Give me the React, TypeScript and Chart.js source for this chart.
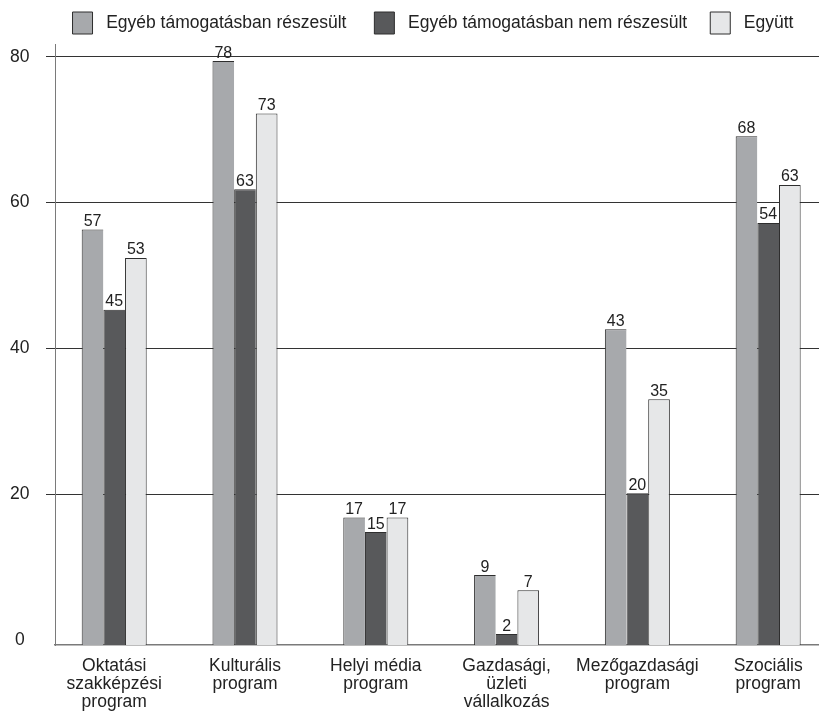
import React, { useEffect, useRef } from "react";
import { Chart, registerables } from "chart.js";

Chart.register(...registerables);

const categories: string[][] = [
  ["Oktatási", "szakképzési", "program"],
  ["Kulturális", "program"],
  ["Helyi média", "program"],
  ["Gazdasági,", "üzleti", "vállalkozás"],
  ["Mezőgazdasági", "program"],
  ["Szociális", "program"],
];

const seriesNames = [
  "Egyéb támogatásban részesült",
  "Egyéb támogatásban nem részesült",
  "Együtt",
];

// bar heights as drawn
const valuesReceived = [56.3, 79.4, 16.8, 8.9, 42.6, 69.1];
const valuesNotReceived = [45.3, 61.8, 14.8, 0.8, 20.1, 57.2];
const valuesTogether = [52.4, 72.2, 16.8, 6.8, 33.0, 62.4];

// value labels as printed above the bars
const labelsReceived = [57, 78, 17, 9, 43, 68];
const labelsNotReceived = [45, 63, 15, 2, 20, 54];
const labelsTogether = [53, 73, 17, 7, 35, 63];

const yTicks = [0, 20, 40, 60, 80];

const seriesColors = ["#a7a9ac", "#58595b", "#e6e7e8"];
const legendSuffix = ["    ", "   ", ""];

const FONT = "'Liberation Sans', Arial, Helvetica, sans-serif";

const valueLabelPlugin = {
  id: "valueLabels",
  afterDatasetsDraw(chart: any) {
    const sets = [labelsReceived, labelsNotReceived, labelsTogether];
    const ctx = chart.ctx;
    ctx.save();
    ctx.font = `16px ${FONT}`;
    ctx.fillStyle = "#222";
    ctx.textAlign = "center";
    ctx.textBaseline = "alphabetic";
    chart.data.datasets.forEach((_ds: any, di: number) => {
      const meta = chart.getDatasetMeta(di);
      meta.data.forEach((bar: any, i: number) => {
        ctx.fillText(String(sets[di][i]), bar.x, bar.y - 3.5);
      });
    });
    ctx.restore();
  },
};

export default function App() {
  const ref = useRef<HTMLCanvasElement | null>(null);

  useEffect(() => {
    document.body.style.margin = "0";
    const canvas = ref.current;
    if (!canvas) return;
    const allValues = [valuesReceived, valuesNotReceived, valuesTogether];
    const Y_MIN = -0.7;
    const chart = new Chart(canvas, {
      type: "bar",
      data: {
        datasets: allValues.map((vals, di) => ({
          label: seriesNames[di],
          data: vals.map((v, i) => ({ x: i, y: v })),
          backgroundColor: seriesColors[di],
          borderColor: "#2e2e2e",
          borderWidth:
            di === 2
              ? { top: 1, left: 1, right: 1, bottom: 0 }
              : { top: 1, left: 1, right: 0, bottom: 0 },
          borderSkipped: false,
          base: Y_MIN,
          categoryPercentage: 0.497,
          barPercentage: 1.0,
        })),
      },
      options: {
        animation: false,
        responsive: false,
        events: [],
        layout: { padding: { top: 3.5, left: 0, right: 0, bottom: 0 } },
        scales: {
          x: {
            type: "linear",
            min: -0.4526,
            max: 5.748,
            offset: false,
            grid: { display: false, drawTicks: false },
            border: { display: true, color: "#7a7a7a", width: 1.5 },
            afterBuildTicks: (scale: any) => {
              scale.ticks = categories.map((_c, i) => ({ value: i }));
            },
            afterFit: (scale: any) => {
              scale.height = 68;
            },
            ticks: {
              autoSkip: false,
              maxRotation: 0,
              minRotation: 0,
              padding: 11.5,
              color: "#222",
              font: { family: FONT, size: 17.5, lineHeight: 1.05 },
              callback: (v: any) => categories[v as number] ?? "",
            },
          },
          y: {
            min: Y_MIN,
            max: 81.74,
            afterBuildTicks: (scale: any) => {
              scale.ticks = yTicks.map((v) => ({ value: v }));
            },
            afterFit: (scale: any) => {
              scale.width = 55;
            },
            grid: {
              color: (c: any) =>
                c.tick && c.tick.value === 0 ? "rgba(0,0,0,0)" : "#333",
              lineWidth: 1,
              drawTicks: true,
              tickLength: 9,
            },
            border: { display: true, color: "#7a7a7a", width: 1 },
            ticks: {
              padding: 16.5,
              crossAlign: "center",
              color: "#222",
              font: { family: FONT, size: 17.5 },
              callback: (v: any) => String(v),
            },
          },
        },
        plugins: {
          tooltip: { enabled: false },
          legend: {
            display: true,
            position: "top",
            align: "center",
            labels: {
              boxWidth: 20,
              boxHeight: 22,
              padding: 8.5,
              color: "#222",
              font: { family: FONT, size: 17.5 },
              generateLabels: (ch: any) =>
                ch.data.datasets.map((ds: any, i: number) => ({
                  text: " " + seriesNames[i] + legendSuffix[i],
                  fillStyle: ds.backgroundColor,
                  strokeStyle: "#2e2e2e",
                  lineWidth: 1,
                  hidden: false,
                  datasetIndex: i,
                  fontColor: "#222",
                })),
            },
          },
        },
      },
      plugins: [valueLabelPlugin],
    } as any);
    return () => chart.destroy();
  }, []);

  return (
    <div
      style={{
        width: 819,
        height: 713,
        overflow: "hidden",
        position: "relative",
        background: "#fff",
      }}
    >
      <canvas ref={ref} width={866} height={713} style={{ display: "block" }} />
    </div>
  );
}
